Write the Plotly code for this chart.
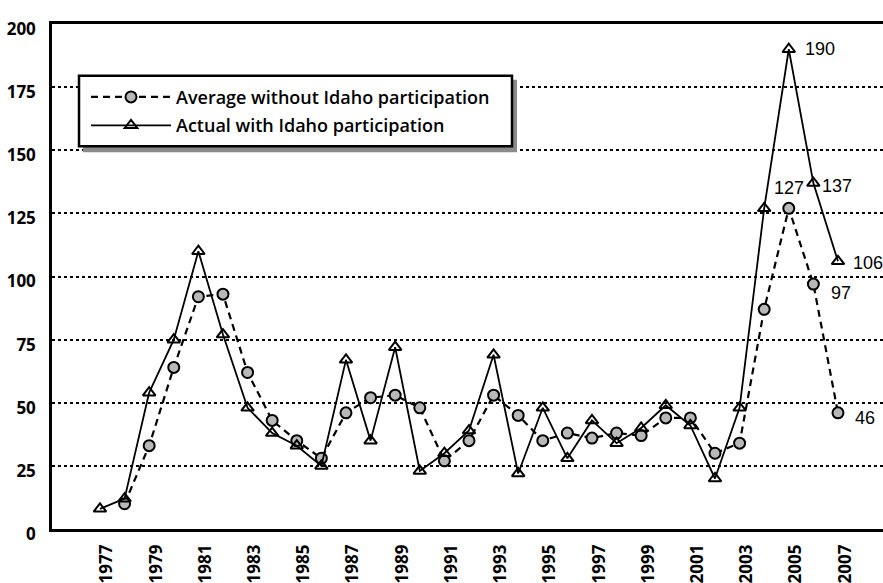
import plotly.graph_objects as go

years = list(range(1977, 2008))
average_without = [None, 10, 33, 64, 92, 93, 62, 43, 35, 28, 46, 52, 53, 48, 27, 35, 53, 45,
                   35, 38, 36, 38, 37, 44, 44, 30, 34, 87, 127, 97, 46]
actual_with = [8, 12, 54, 75, 110, 77, 48, 38, 33, 25, 67, 35, 72, 23, 30, 39, 69, 22,
               48, 28, 43, 34, 40, 49, 41, 20, 48, 127, 190, 137, 106]
y_ticks = [0, 25, 50, 75, 100, 125, 150, 175, 200]
x_ticks = list(range(1977, 2008, 2))

W, H = 883, 583
ML, MR, MT, MB = 52, 0, 24, 51
PW, PH = W - ML - MR, H - MT - MB


def px(xp):
    return (xp - ML) / PW


def py(yp):
    return (H - MB - yp) / PH


fig = go.Figure()
fig.add_trace(go.Scatter(
    x=years, y=average_without, name="Average without Idaho participation",
    mode="lines+markers", legendgroup="a",
    line=dict(color="black", width=2.2, dash="7px,5px"),
    marker=dict(symbol="circle", size=11, color="#b8b8b8",
                line=dict(color="black", width=2)),
    connectgaps=False,
))
fig.add_trace(go.Scatter(
    x=years, y=actual_with, name="Actual with Idaho participation",
    mode="lines+markers", legendgroup="b",
    line=dict(color="black", width=1.8),
    marker=dict(symbol="triangle-up-open", size=11, color="black",
                line=dict(color="black", width=2)),
))

ann_font = dict(family="Liberation Sans, Arial", size=18, color="black")
labels = [
    (2005, actual_with[28], "190", "left", 14, 0),
    (2005, average_without[28], "127", "center", 0, 20),
    (2006, actual_with[29], "137", "left", 7, -3),
    (2007, actual_with[30], "106", "left", 13, -2),
    (2006, average_without[29], "97", "left", 16, -9),
    (2007, average_without[30], "46", "left", 15, -5),
]
for x, y, t, xa, xs, ys in labels:
    fig.add_annotation(x=x, y=y, text=t, showarrow=False, xanchor=xa, yanchor="middle",
                       xshift=xs, yshift=ys, font=ann_font)

shapes = [
    dict(type="rect", xref="paper", yref="paper", layer="above",
         x0=px(83), x1=px(517), y0=py(80), y1=py(153),
         fillcolor="#8a8a8a", line=dict(width=0)),
    dict(type="rect", xref="paper", yref="paper", layer="above",
         x0=px(79), x1=px(512), y0=py(76), y1=py(147),
         fillcolor="white", line=dict(color="black", width=2.5)),
]

tick_font = dict(family="Open Sans, DejaVu Sans", size=17, color="black", weight="bold")

fig.update_layout(
    width=W, height=H,
    margin=dict(l=ML, r=MR, t=MT, b=MB),
    paper_bgcolor="white", plot_bgcolor="white",
    showlegend=True,
    shapes=shapes,
    legend=dict(
        x=px(86), y=py(79), xanchor="left", yanchor="top",
        bgcolor="rgba(0,0,0,0)", borderwidth=0,
        font=dict(family="Open Sans, DejaVu Sans", size=18, color="black", weight=600),
        itemwidth=80, tracegroupgap=2, traceorder="grouped",
    ),
    xaxis=dict(
        range=[1975.05, 2008.83], tickmode="array", tickvals=x_ticks,
        ticktext=[str(v) for v in x_ticks], tickangle=-90, tickfont=tick_font,
        showgrid=False, zeroline=False, showline=True, linecolor="black",
        linewidth=2.5, mirror=True, ticks="", ticklabelshift=7, ticklabelstandoff=6,
    ),
    yaxis=dict(
        range=[0, 200], tickmode="array", tickvals=y_ticks,
        ticktext=[str(v) for v in y_ticks], tickfont=tick_font,
        showgrid=True, gridcolor="black", gridwidth=1.6, griddash="dot",
        zeroline=False, showline=True, linecolor="black", linewidth=2.5,
        ticks="", ticklabelshift=5, ticklabelstandoff=10,
    ),
)

fig.write_html(
    "out.html",
    config={"displayModeBar": False},
    post_script="document.body.style.margin='0';document.body.style.overflow='hidden';",
)
